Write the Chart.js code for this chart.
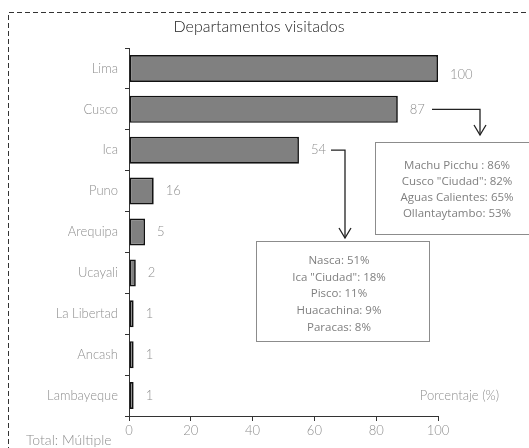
<!DOCTYPE html>
<html>
<head>
<meta charset="utf-8">
<script src="https://cdn.jsdelivr.net/npm/chart.js@4"></script>
<style>
html,body{margin:0;padding:0;background:#fff;}
#wrap{width:529px;height:448px;position:relative;}
</style>
</head>
<body>
<div id="wrap"><canvas id="c" width="529" height="448"></canvas></div>
<script>
const categories = ['Lima','Cusco','Ica','Puno','Arequipa','Ucayali','La Libertad','Ancash','Lambayeque'];
const barValues = [100, 87, 55, 8, 5.2, 2.2, 1.5, 1.5, 1.5];
const valueLabels = ['100','87','54','16','5','2','1','1','1'];
const xTicks = [0, 20, 40, 60, 80, 100];
const title = 'Departamentos visitados';
const cuscoNotes = ['Machu Picchu : 86%','Cusco "Ciudad": 82%','Aguas Calientes: 65%','Ollantaytambo: 53%'];
const icaNotes = ['Nasca: 51%','Ica "Ciudad": 18%','Pisco: 11%','Huacachina: 9%','Paracas: 8%'];
const axisTitle = 'Porcentaje (%)';
const footnote = 'Total: Múltiple';

const fam = 'Lato, "Open Sans", sans-serif';
const labelFont = '300 13px ' + fam;
const labelColor = '#8f8f8f';

const extras = {
  id: 'extras',
  afterDraw(chart) {
    const ctx = chart.ctx;
    const x = chart.scales.x, y = chart.scales.y;
    ctx.save();
    // dashed frame
    ctx.strokeStyle = '#333';
    ctx.lineWidth = 1;
    ctx.setLineDash([5, 3]);
    ctx.beginPath();
    ctx.moveTo(8.5, 460);
    ctx.lineTo(8.5, 12.5);
    ctx.lineTo(540, 12.5);
    ctx.stroke();
    ctx.setLineDash([]);
    // title
    ctx.fillStyle = '#222';
    ctx.font = '300 16px ' + fam;
    ctx.textAlign = 'center';
    ctx.textBaseline = 'middle';
    ctx.fillText(title, 259, 27);
    // value labels
    ctx.font = labelFont;
    ctx.fillStyle = labelColor;
    ctx.textAlign = 'left';
    const meta = chart.getDatasetMeta(0);
    meta.data.forEach((bar, i) => {
      const dy = i === 0 ? 6 : 0;
      ctx.fillText(valueLabels[i], bar.x + 12, bar.y + dy);
    });
    // axis title and footnote
    ctx.textAlign = 'right';
    ctx.fillText(axisTitle, 499, y.getPixelForValue(8));
    ctx.textAlign = 'left';
    ctx.font = '300 14px ' + fam;
    ctx.fillText(footnote, 26, 440);
    // arrows
    function arrow(points) {
      ctx.strokeStyle = '#222';
      ctx.lineWidth = 1.3;
      ctx.beginPath();
      ctx.moveTo(points[0][0], points[0][1]);
      for (let k = 1; k < points.length; k++) ctx.lineTo(points[k][0], points[k][1]);
      ctx.stroke();
      const [ex, ey] = points[points.length - 1];
      ctx.beginPath();
      ctx.moveTo(ex - 6, ey - 10);
      ctx.lineTo(ex, ey);
      ctx.lineTo(ex + 6, ey - 10);
      ctx.stroke();
    }
    const cy = y.getPixelForValue(1), iy = y.getPixelForValue(2);
    arrow([[432, cy], [480, cy], [480, 135]]);
    arrow([[331, iy], [345, iy], [345, 238]]);
    // boxes
    function box(x0, y0, w, h, lines, cx, ty, step) {
      ctx.strokeStyle = '#8c8c8c';
      ctx.lineWidth = 1;
      ctx.strokeRect(x0 + 0.5, y0 + 0.5, w, h);
      ctx.fillStyle = '#7f7f7f';
      ctx.font = '11.5px "Open Sans", sans-serif';
      ctx.textAlign = 'center';
      ctx.textBaseline = 'middle';
      lines.forEach((t, k) => ctx.fillText(t, cx, ty + k * step));
    }
    box(375, 142, 160, 92, cuscoNotes, 457, 166, 15.8);
    box(256, 241, 173, 100, icaNotes, 339, 261, 16.6);
    ctx.restore();
  }
};

new Chart(document.getElementById('c'), {
  type: 'bar',
  data: {
    labels: categories,
    datasets: [{
      data: barValues,
      backgroundColor: '#808080',
      borderColor: '#111',
      borderWidth: 1.7,
      borderSkipped: false,
      categoryPercentage: 1,
      barPercentage: 0.66
    }]
  },
  options: {
    indexAxis: 'y',
    responsive: false,
    animation: false,
    devicePixelRatio: 1,
    layout: { padding: { left: 0, right: 91, top: 48, bottom: 0 } },
    plugins: { legend: { display: false }, tooltip: { enabled: false }, title: { display: false } },
    scales: {
      x: {
        min: 0, max: 100,
        afterBuildTicks(s) { s.ticks = xTicks.map(v => ({ value: v })); },
        afterFit(s) { s.height = 32; },
        grid: { drawOnChartArea: false, drawTicks: true, tickLength: 5, color: '#333' },
        border: { display: true, color: '#333', width: 1 },
        ticks: { color: labelColor, font: { family: fam, size: 13, weight: '300' }, padding: 2, maxRotation: 0 }
      },
      y: {
        afterFit(s) { s.width = 129; },
        grid: { drawOnChartArea: false, drawTicks: true, tickLength: 4, color: '#333', offset: true },
        border: { display: true, color: '#333', width: 1 },
        ticks: { color: labelColor, font: { family: fam, size: 13, weight: '300' }, padding: 7 }
      }
    }
  },
  plugins: [extras]
});
</script>
</body>
</html>
